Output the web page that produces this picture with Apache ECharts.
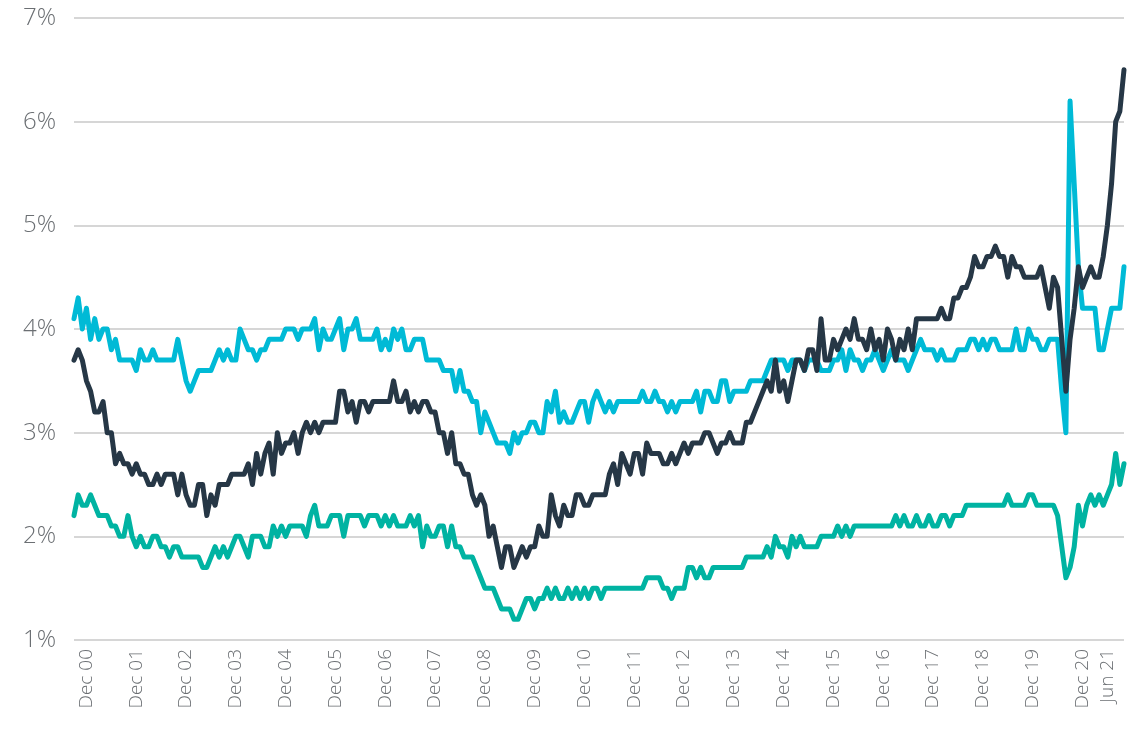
<!DOCTYPE html>
<html>
<head>
<meta charset="utf-8">
<script src="https://cdn.jsdelivr.net/npm/echarts@6/dist/echarts.min.js"></script>
<style>
  html, body { margin: 0; padding: 0; background: #ffffff; }
  #chart { width: 1140px; height: 735px; }
</style>
</head>
<body>
<div id="chart"></div>
<script>
// Monthly observations, Sep 2000 .. Oct 2021
const START_YEAR = 2000;
const START_MONTH = 9; // September
const MONTH_NAMES = ["Jan","Feb","Mar","Apr","May","Jun","Jul","Aug","Sep","Oct","Nov","Dec"];

const TICK_LABELS = ["Dec 00","Dec 01","Dec 02","Dec 03","Dec 04","Dec 05","Dec 06","Dec 07",
  "Dec 08","Dec 09","Dec 10","Dec 11","Dec 12","Dec 13","Dec 14","Dec 15","Dec 16","Dec 17",
  "Dec 18","Dec 19","Dec 20","Jun 21"];

const Y_TICKS = [1, 2, 3, 4, 5, 6, 7];

const seriesDark = [
  3.7,3.8,3.7,3.5,3.4,3.2,3.2,3.3,3.0,3.0,2.7,2.8,
  2.7,2.7,2.6,2.7,2.6,2.6,2.5,2.5,2.6,2.5,2.6,2.6,
  2.6,2.4,2.6,2.4,2.3,2.3,2.5,2.5,2.2,2.4,2.3,2.5,
  2.5,2.5,2.6,2.6,2.6,2.6,2.7,2.5,2.8,2.6,2.8,2.9,
  2.6,3.0,2.8,2.9,2.9,3.0,2.8,3.0,3.1,3.0,3.1,3.0,
  3.1,3.1,3.1,3.1,3.4,3.4,3.2,3.3,3.1,3.3,3.3,3.2,
  3.3,3.3,3.3,3.3,3.3,3.5,3.3,3.3,3.4,3.2,3.3,3.2,
  3.3,3.3,3.2,3.2,3.0,3.0,2.8,3.0,2.7,2.7,2.6,2.6,
  2.4,2.3,2.4,2.3,2.0,2.1,1.9,1.7,1.9,1.9,1.7,1.8,
  1.9,1.8,1.9,1.9,2.1,2.0,2.0,2.4,2.2,2.1,2.3,2.2,
  2.2,2.4,2.4,2.3,2.3,2.4,2.4,2.4,2.4,2.6,2.7,2.5,
  2.8,2.7,2.6,2.8,2.8,2.6,2.9,2.8,2.8,2.8,2.7,2.7,
  2.8,2.7,2.8,2.9,2.8,2.9,2.9,2.9,3.0,3.0,2.9,2.8,
  2.9,2.9,3.0,2.9,2.9,2.9,3.1,3.1,3.2,3.3,3.4,3.5,
  3.4,3.7,3.4,3.5,3.3,3.5,3.7,3.7,3.6,3.8,3.8,3.6,
  4.1,3.7,3.7,3.9,3.8,3.9,4.0,3.9,4.1,3.9,3.9,3.8,
  4.0,3.8,3.9,3.7,4.0,3.9,3.7,3.9,3.8,4.0,3.8,4.1,
  4.1,4.1,4.1,4.1,4.1,4.2,4.1,4.1,4.3,4.3,4.4,4.4,
  4.5,4.7,4.6,4.6,4.7,4.7,4.8,4.7,4.7,4.5,4.7,4.6,
  4.6,4.5,4.5,4.5,4.5,4.6,4.4,4.2,4.5,4.4,3.9,3.4,
  3.9,4.2,4.6,4.4,4.5,4.6,4.5,4.5,4.7,5.0,5.4,6.0,
  6.1,6.5
];

const seriesCyan = [
  4.1,4.3,4.0,4.2,3.9,4.1,3.9,4.0,4.0,3.8,3.9,3.7,
  3.7,3.7,3.7,3.6,3.8,3.7,3.7,3.8,3.7,3.7,3.7,3.7,
  3.7,3.9,3.7,3.5,3.4,3.5,3.6,3.6,3.6,3.6,3.7,3.8,
  3.7,3.8,3.7,3.7,4.0,3.9,3.8,3.8,3.7,3.8,3.8,3.9,
  3.9,3.9,3.9,4.0,4.0,4.0,3.9,4.0,4.0,4.0,4.1,3.8,
  4.0,3.9,3.9,4.0,4.1,3.8,4.0,4.0,4.1,3.9,3.9,3.9,
  3.9,4.0,3.8,3.9,3.8,4.0,3.9,4.0,3.8,3.8,3.9,3.9,
  3.9,3.7,3.7,3.7,3.7,3.6,3.6,3.6,3.4,3.6,3.4,3.4,
  3.3,3.3,3.0,3.2,3.1,3.0,2.9,2.9,2.9,2.8,3.0,2.9,
  3.0,3.0,3.1,3.1,3.0,3.0,3.3,3.2,3.4,3.1,3.2,3.1,
  3.1,3.2,3.3,3.3,3.1,3.3,3.4,3.3,3.2,3.3,3.2,3.3,
  3.3,3.3,3.3,3.3,3.3,3.4,3.3,3.3,3.4,3.3,3.3,3.2,
  3.3,3.2,3.3,3.3,3.3,3.3,3.4,3.2,3.4,3.4,3.3,3.3,
  3.5,3.5,3.3,3.4,3.4,3.4,3.4,3.5,3.5,3.5,3.5,3.6,
  3.7,3.7,3.7,3.7,3.6,3.7,3.7,3.7,3.6,3.7,3.7,3.7,
  3.6,3.6,3.6,3.7,3.7,3.8,3.6,3.8,3.7,3.7,3.6,3.7,
  3.7,3.8,3.7,3.6,3.7,3.8,3.7,3.7,3.7,3.6,3.7,3.8,
  3.9,3.8,3.8,3.8,3.7,3.8,3.7,3.7,3.7,3.8,3.8,3.8,
  3.9,3.9,3.8,3.9,3.8,3.9,3.9,3.8,3.8,3.8,3.8,4.0,
  3.8,3.8,4.0,3.9,3.9,3.8,3.8,3.9,3.9,3.9,3.4,3.0,
  6.2,5.4,4.6,4.2,4.2,4.2,4.2,3.8,3.8,4.0,4.2,4.2,
  4.2,4.6
];

const seriesTeal = [
  2.2,2.4,2.3,2.3,2.4,2.3,2.2,2.2,2.2,2.1,2.1,2.0,
  2.0,2.2,2.0,1.9,2.0,1.9,1.9,2.0,2.0,1.9,1.9,1.8,
  1.9,1.9,1.8,1.8,1.8,1.8,1.8,1.7,1.7,1.8,1.9,1.8,
  1.9,1.8,1.9,2.0,2.0,1.9,1.8,2.0,2.0,2.0,1.9,1.9,
  2.1,2.0,2.1,2.0,2.1,2.1,2.1,2.1,2.0,2.2,2.3,2.1,
  2.1,2.1,2.2,2.2,2.2,2.0,2.2,2.2,2.2,2.2,2.1,2.2,
  2.2,2.2,2.1,2.2,2.1,2.2,2.1,2.1,2.1,2.2,2.1,2.2,
  1.9,2.1,2.0,2.0,2.1,2.1,1.9,2.1,1.9,1.9,1.8,1.8,
  1.8,1.7,1.6,1.5,1.5,1.5,1.4,1.3,1.3,1.3,1.2,1.2,
  1.3,1.4,1.4,1.3,1.4,1.4,1.5,1.4,1.5,1.4,1.4,1.5,
  1.4,1.5,1.4,1.5,1.4,1.5,1.5,1.4,1.5,1.5,1.5,1.5,
  1.5,1.5,1.5,1.5,1.5,1.5,1.6,1.6,1.6,1.6,1.5,1.5,
  1.4,1.5,1.5,1.5,1.7,1.7,1.6,1.7,1.6,1.6,1.7,1.7,
  1.7,1.7,1.7,1.7,1.7,1.7,1.8,1.8,1.8,1.8,1.8,1.9,
  1.8,2.0,1.9,1.9,1.8,2.0,1.9,2.0,1.9,1.9,1.9,1.9,
  2.0,2.0,2.0,2.0,2.1,2.0,2.1,2.0,2.1,2.1,2.1,2.1,
  2.1,2.1,2.1,2.1,2.1,2.1,2.2,2.1,2.2,2.1,2.1,2.2,
  2.1,2.1,2.2,2.1,2.1,2.2,2.2,2.1,2.2,2.2,2.2,2.3,
  2.3,2.3,2.3,2.3,2.3,2.3,2.3,2.3,2.3,2.4,2.3,2.3,
  2.3,2.3,2.4,2.4,2.3,2.3,2.3,2.3,2.3,2.2,1.9,1.6,
  1.7,1.9,2.3,2.1,2.3,2.4,2.3,2.4,2.3,2.4,2.5,2.8,
  2.5,2.7
];

// month category labels
const categories = [];
for (let k = 0; k < seriesDark.length; k++) {
  const m = (START_MONTH - 1 + k) % 12;
  const y = START_YEAR + Math.floor((START_MONTH - 1 + k) / 12);
  categories.push(MONTH_NAMES[m] + " " + String(y % 100).padStart(2, "0"));
}

const COLORS = { dark: "#263746", cyan: "#00bad6", teal: "#00b3a2" };
const LABEL_COLOR = "#6b6f73";
const FONT = "'Open Sans', 'Liberation Sans', sans-serif";

const chart = echarts.init(document.getElementById("chart"), null, { renderer: "canvas" });

function lineSeries(name, data, color, z) {
  return {
    name: name,
    type: "line",
    data: data,
    showSymbol: false,
    symbol: "none",
    z: z,
    lineStyle: { color: color, width: 5, join: "round", cap: "round" },
    emphasis: { disabled: true }
  };
}

chart.setOption({
  animation: false,
  backgroundColor: "#ffffff",
  grid: { left: 74, right: 16, top: 18, bottom: 95, containLabel: false },
  xAxis: {
    type: "category",
    data: categories,
    boundaryGap: false,
    axisLine: { show: false },
    axisTick: { show: false },
    splitLine: { show: false },
    axisLabel: {
      rotate: 90,
      margin: 9,
      color: LABEL_COLOR,
      fontFamily: FONT,
      fontWeight: 300,
      fontSize: 19,
      interval: function (index, value) { return TICK_LABELS.indexOf(value) !== -1; }
    }
  },
  yAxis: {
    type: "value",
    min: Y_TICKS[0],
    max: Y_TICKS[Y_TICKS.length - 1],
    interval: 1,
    axisLine: { show: false },
    axisTick: { show: false },
    axisLabel: {
      formatter: "{value}%",
      color: LABEL_COLOR,
      fontFamily: FONT,
      fontWeight: 300,
      fontSize: 24,
      margin: 18
    },
    splitLine: { lineStyle: { color: "#c9c9c9", width: 1.5 } }
  },
  series: [
    lineSeries("Teal", seriesTeal, COLORS.teal, 2),
    lineSeries("Cyan", seriesCyan, COLORS.cyan, 3),
    lineSeries("Dark", seriesDark, COLORS.dark, 4)
  ]
});
</script>
</body>
</html>
